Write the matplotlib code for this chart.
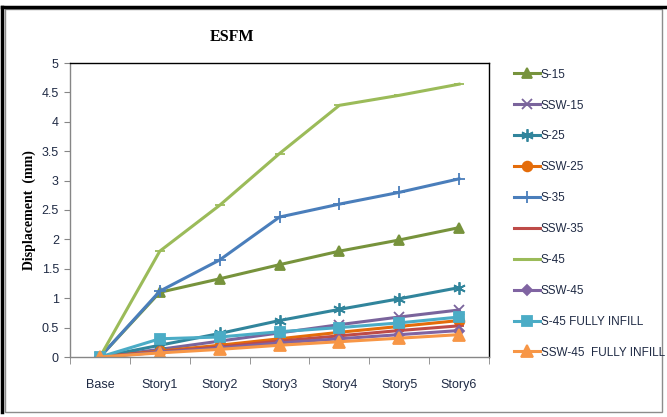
import matplotlib
matplotlib.use("Agg")
import matplotlib.pyplot as plt
from matplotlib.lines import Line2D
from matplotlib.patches import Rectangle

# storey displacement (mm), equivalent static force method
stories = ["Base", "Story1", "Story2", "Story3", "Story4", "Story5", "Story6"]

s15 = [0, 1.10, 1.33, 1.57, 1.80, 1.99, 2.20]
ssw15 = [0, 0.13, 0.27, 0.41, 0.55, 0.68, 0.80]
s25 = [0, 0.20, 0.40, 0.62, 0.81, 0.99, 1.18]
ssw25 = [0, 0.10, 0.20, 0.31, 0.42, 0.52, 0.62]
s35 = [0, 1.12, 1.65, 2.38, 2.60, 2.80, 3.03]
ssw35 = [0, 0.09, 0.17, 0.27, 0.36, 0.45, 0.53]
s45 = [0, 1.80, 2.58, 3.46, 4.28, 4.45, 4.64]
ssw45 = [0, 0.08, 0.15, 0.24, 0.31, 0.38, 0.45]
s45_fi = [0, 0.31, 0.34, 0.43, 0.50, 0.58, 0.68]
ssw45_fi = [0, 0.07, 0.13, 0.20, 0.26, 0.32, 0.38]

asterisk = (6, 2, 0)
series = [
    ("S-15", s15, "#77933C", "^", 7),
    ("SSW-15", ssw15, "#7A649C", "x", 7),
    ("S-25", s25, "#31859C", asterisk, 9),
    ("SSW-25", ssw25, "#E46C0A", "o", 7),
    ("S-35", s35, "#4A7EBB", "+", 9),
    ("SSW-35", ssw35, "#BE4B48", "_", 7),
    ("S-45", s45, "#9BBB59", "_", 7),
    ("SSW-45", ssw45, "#8064A2", "D", 5),
    ("S-45 FULLY INFILL", s45_fi, "#4BACC6", "s", 7),
    ("SSW-45  FULLY INFILL", ssw45_fi, "#F79646", "^", 8),
]

tick_font = ["Liberation Sans", "DejaVu Sans"]
text_col = "#1F2A44"

fig = plt.figure(figsize=(6.67, 4.17), dpi=100)
ax = fig.add_axes([70 / 667, 1 - 357 / 417, (489 - 70) / 667, (357 - 63) / 417])

x = range(len(stories))
for label, vals, col, mk, ms in series:
    ax.plot(x, vals, color=col, lw=2.2, marker=mk, markersize=ms,
            markeredgecolor=col, markerfacecolor=col, markeredgewidth=1.3,
            label=label)

ax.set_xlim(-0.5, len(stories) - 0.5)
ax.set_ylim(0, 5)
ax.set_yticks([0, 0.5, 1, 1.5, 2, 2.5, 3, 3.5, 4, 4.5, 5])
ax.set_yticklabels(["0", "0.5", "1", "1.5", "2", "2.5", "3", "3.5", "4", "4.5", "5"])
ax.set_xticks(list(x))
ax.set_xticklabels(stories)
ax.set_xticks([i - 0.5 for i in range(len(stories) + 1)], minor=True)

ax.tick_params(axis="x", which="major", length=0, pad=16)
ax.tick_params(axis="x", which="minor", length=5, color="#868686", direction="out")
ax.tick_params(axis="y", length=4, color="#868686", direction="out", pad=4)
for lbl in ax.get_xticklabels() + ax.get_yticklabels():
    lbl.set_family(tick_font)
    lbl.set_fontsize(9)
    lbl.set_color(text_col)

for side in ("left", "bottom"):
    ax.spines[side].set_color("#868686")
for side in ("top", "right"):
    ax.spines[side].set_color("#000000")
for sp in ax.spines.values():
    sp.set_linewidth(1)

ax.set_ylabel("Displacement  (mm)", family="Liberation Serif", fontweight="bold",
              fontsize=10, color="#000000", labelpad=4)
fig.text(232 / 667, 1 - 37 / 417, "ESFM", family="Liberation Serif",
         fontweight="bold", fontsize=11.5, ha="center", va="center")

handles, labels = ax.get_legend_handles_labels()
leg = fig.legend(handles, labels, loc="upper left",
                 bbox_to_anchor=(503 / 667, 1 - 58 / 417), frameon=False,
                 handlelength=2.2, handletextpad=0.1, labelspacing=1.6,
                 prop={"family": tick_font, "size": 8.5})
for t in leg.get_texts():
    t.set_color(text_col)

# chart frame
fig.patches.append(Rectangle((5 / 667, 5 / 417), 657 / 667, 403 / 417,
                             transform=fig.transFigure, fill=False,
                             edgecolor="#8c8c8c", lw=1))
fig.lines.append(Line2D([2 / 667, 2 / 667], [5 / 417, 410 / 417],
                        transform=fig.transFigure, color="black", lw=2.5))
fig.lines.append(Line2D([2 / 667, 667 / 667], [410 / 417, 410 / 417],
                        transform=fig.transFigure, color="black", lw=2.5))

fig.savefig("out.png", dpi=100)
